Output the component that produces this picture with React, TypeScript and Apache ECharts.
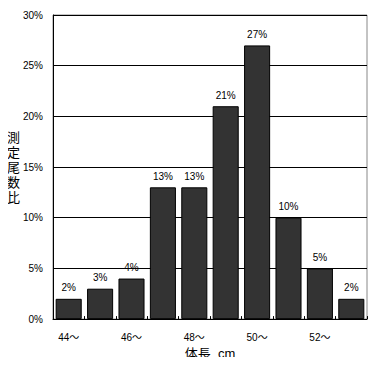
import React, { useEffect, useRef } from "react";
import * as echarts from "echarts";

const categories = ["44〜", "45〜", "46〜", "47〜", "48〜", "49〜", "50〜", "51〜", "52〜", "53〜"];
const values = [2, 3, 4, 13, 13, 21, 27, 10, 5, 2];
const yTicks = [0, 5, 10, 15, 20, 25, 30];
const yName = "測定尾数比";

export default function App() {
  const ref = useRef<HTMLDivElement>(null);
  useEffect(() => {
    const chart = echarts.init(ref.current!, null, { renderer: "svg" });
    const font = "'Liberation Sans', 'Noto Sans CJK JP', sans-serif";
    chart.setOption({
      animation: false,
      backgroundColor: "#ffffff",
      grid: { left: 53, right: 15, top: 15, bottom: 45, show: true, borderColor: "#888888", borderWidth: 1 },
      graphic: [
        {
          type: "text",
          left: 7,
          top: 130,
          style: {
            text: yName.split("").join("\n"),
            fontSize: 13,
            lineHeight: 15,
            fill: "#000",
            fontFamily: font,
          },
        },
      ],
      xAxis: {
        type: "category",
        data: categories,
        name: "体長  cm",
        nameLocation: "middle",
        nameGap: 26,
        nameTextStyle: { color: "#000", fontSize: 13, fontFamily: font },
        axisLine: { lineStyle: { color: "#000", width: 1 } },
        axisTick: { show: true, inside: true, length: 3, interval: 0, lineStyle: { color: "#000" } },
        axisLabel: {
          interval: 1,
          color: "#000",
          fontSize: 10,
          fontFamily: font,
          margin: 13,
        },
      },
      yAxis: {
        type: "value",
        min: yTicks[0],
        max: yTicks[yTicks.length - 1],
        interval: 5,
        axisLine: { show: true, lineStyle: { color: "#000", width: 1 } },
        axisTick: { show: false },
        axisLabel: { color: "#000", fontSize: 10, fontFamily: font, margin: 10, formatter: "{value}%" },
        splitLine: { show: true, lineStyle: { color: "#000", width: 1 } },
      },
      series: [
        {
          type: "bar",
          data: values,
          barCategoryGap: "17%",
          itemStyle: { color: "#333333", borderColor: "#000", borderWidth: 1 },
          label: {
            show: true,
            position: "top",
            distance: 6,
            color: "#000",
            fontSize: 10,
            fontFamily: font,
            formatter: "{c}%",
          },
        },
      ],
    });
    return () => chart.dispose();
  }, []);
  return <div ref={ref} style={{ width: 382, height: 365, margin: -8 }} />;
}
